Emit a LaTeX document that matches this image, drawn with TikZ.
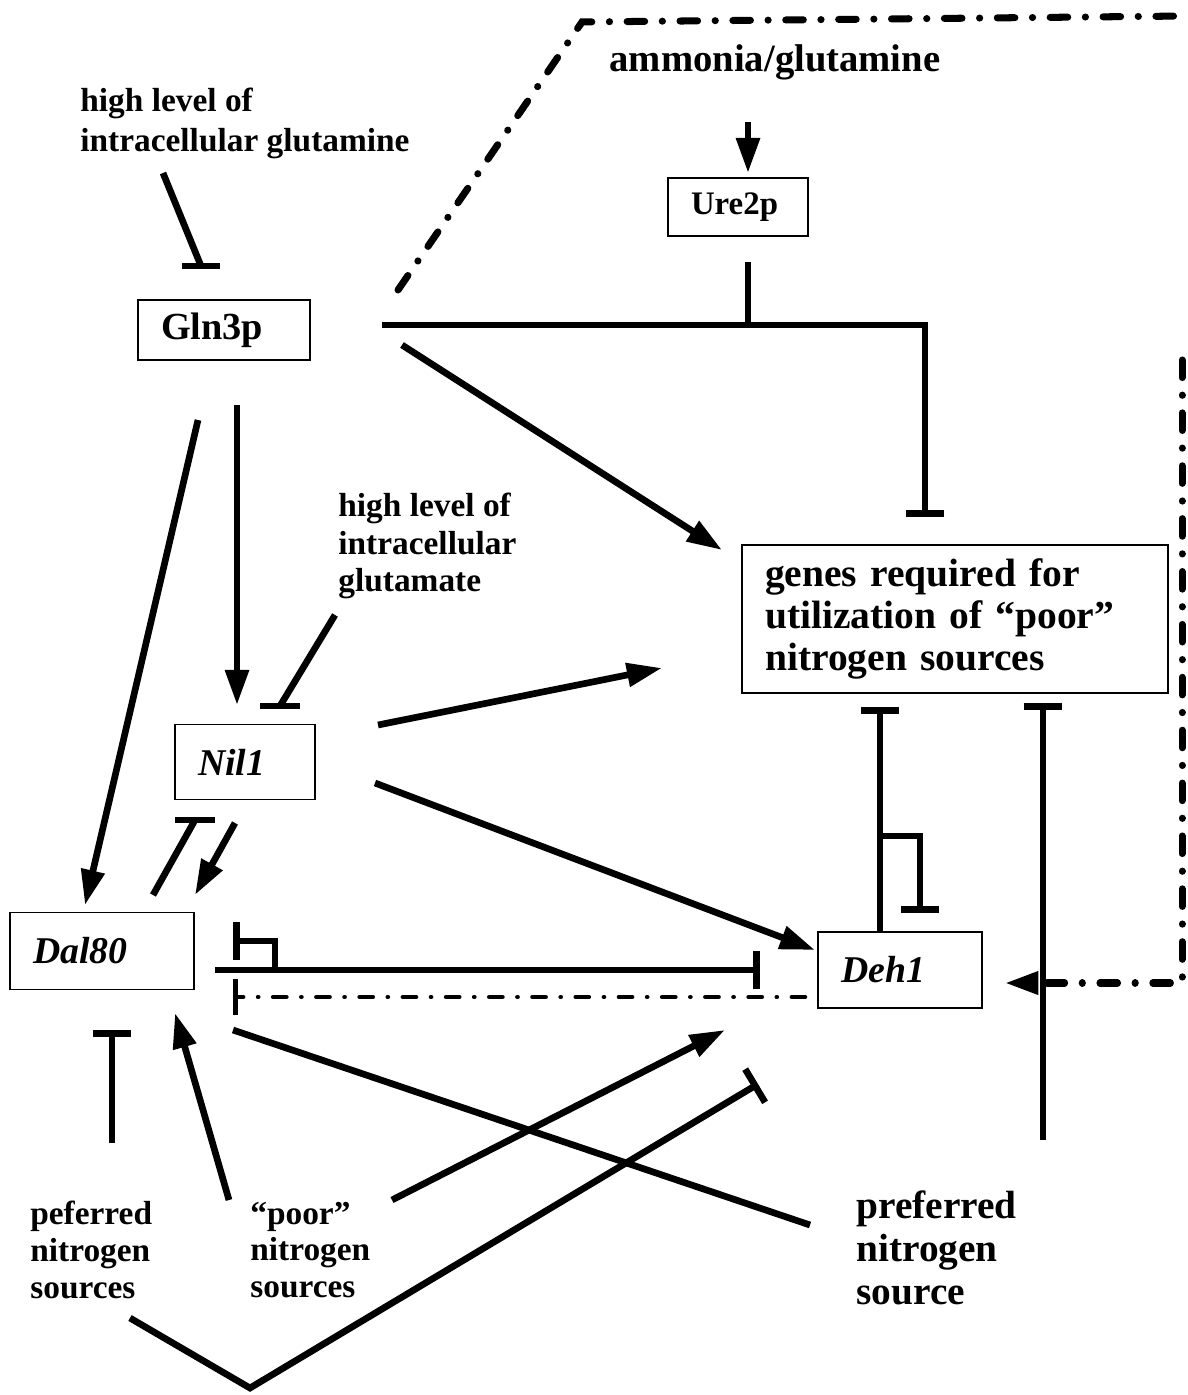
\documentclass[tikz,border=0pt]{standalone}
\usepackage{fontspec}
\setmainfont{Liberation Serif}
\usetikzlibrary{arrows.meta}
\tikzset{
  gene/.style={draw, line width=1.1pt, inner xsep=0.46cm, inner ysep=0pt, align=left},
  lab/.style={inner sep=0pt, anchor=west, align=left},
  act/.style={line width=3.8pt, -{Triangle[length=20pt,width=13pt]}},
  inh/.style={line width=3.8pt, -{Bar[width=22pt]}},
  plain/.style={line width=3.8pt},
  dashdot/.style={line width=4pt, line cap=round, dash pattern=on 10pt off 10pt on 0.1pt off 10pt},
  thindash/.style={line width=2.6pt, line cap=round, dash pattern=on 7.5pt off 8.5pt on 0.1pt off 8.5pt},
}
\newcommand{\labfont}{\bfseries\fontsize{19}{21}\selectfont}
\newcommand{\genefont}{\bfseries\itshape\fontsize{21.5}{24}\selectfont}
\begin{document}
\begin{tikzpicture}[x=0.02cm, y=-0.02cm]
  \useasboundingbox (0,0) rectangle (1187,1395);
  \node[gene, text width=2.52cm, minimum height=1.2cm, font=\bfseries\fontsize{21.8}{24}\selectfont] (gln3p) at (224,330) {Gln3p};
  \node[gene, text width=1.88cm, minimum height=1.16cm, font=\bfseries\fontsize{18.7}{21}\selectfont] (ure2p) at (738,207) {Ure2p};
  \node[gene, text width=7.6cm, minimum height=2.96cm, font=\bfseries\fontsize{22.5}{23.8}\selectfont] (genes) at (955,619) {genes required for\\utilization of “poor”\\nitrogen sources};
  \node[gene, text width=1.88cm, minimum height=1.5cm, font=\genefont] (nil1) at (245,762) {Nil1};
  \node[gene, text width=2.76cm, minimum height=1.54cm, font=\genefont] (dal80) at (102,951) {Dal80};
  \node[gene, text width=2.36cm, minimum height=1.52cm, font=\genefont] (deh1) at (900,970) {Deh1};
  \node[lab, anchor=center, font=\bfseries\fontsize{22}{24}\selectfont] (ammonia) at (775,62) {ammonia/glutamine};
  \node[lab, font=\bfseries\fontsize{19}{22.7}\selectfont] (glutamine) at (80,123) {high level of\\intracellular glutamine};
  \node[lab, font=\bfseries\fontsize{19}{21.3}\selectfont] (glutamate) at (338,546) {high level of\\intracellular\\glutamate};
  \node[lab, font=\labfont] (peferred) at (30,1250) {peferred\\nitrogen\\sources};
  \node[lab, font=\labfont] (poor) at (250,1250) {“poor”\\nitrogen\\sources};
  \node[lab, font=\bfseries\fontsize{22.4}{24.4}\selectfont] (preferred) at (856,1248) {preferred\\nitrogen\\source};

  \coordinate (gqS) at (163,173);  \coordinate (gqE) at (201,266);
  \coordinate (amS) at (748,122);  \coordinate (amE) at (748,173);
  \coordinate (urS) at (748,262);  \coordinate (urE) at (748,325);
  \coordinate (glnR) at (382,325); \coordinate (glnC) at (925,325); \coordinate (glnB) at (925,517);
  \coordinate (gl1) at (402,345);  \coordinate (gn1) at (722,550);
  \coordinate (gl2) at (237,405);  \coordinate (ni1) at (237,705);
  \coordinate (gl3) at (198,420);  \coordinate (da1) at (85,905);
  \coordinate (gtS) at (335,615);  \coordinate (gtE) at (280,706);
  \coordinate (ni2) at (378,725);  \coordinate (gn2) at (662,668);
  \coordinate (ni3) at (375,783);  \coordinate (de1) at (815,950);
  \coordinate (da2) at (153,895);  \coordinate (ni4) at (195,820);
  \coordinate (ni5) at (235,823);  \coordinate (da3) at (195,895);
  \coordinate (da4) at (215,970);  \coordinate (de2) at (760,970);
  \coordinate (hk1) at (275,970);  \coordinate (hk2) at (275,941); \coordinate (hk3) at (233,941);
  \coordinate (de3) at (805,997);  \coordinate (da5) at (233,997);
  \coordinate (pfS) at (112,1143); \coordinate (da6) at (112,1030);
  \coordinate (poS1) at (229,1200); \coordinate (da7) at (175,1013);
  \coordinate (poS2) at (392,1200); \coordinate (de4) at (725,1030);
  \coordinate (prS) at (810,1225); \coordinate (da8) at (233,1030);
  \coordinate (pfV1) at (130,1318); \coordinate (pfV2) at (250,1388); \coordinate (pfV3) at (758,1084);
  \coordinate (de5) at (880,932);  \coordinate (gn3) at (880,707);
  \coordinate (hk4) at (880,836);  \coordinate (hk5) at (920,836); \coordinate (hk6) at (920,913);
  \coordinate (prS2) at (1043,1140); \coordinate (gn4) at (1043,703);
  \coordinate (gl4) at (398,290);  \coordinate (tl) at (582,22); \coordinate (tr) at (1187,16);
  \coordinate (rt) at (1182,360);  \coordinate (rb) at (1182,983); \coordinate (de6) at (1005,983);

  \begin{scope}[plain]
    \draw (gqS) -- (gqE);
    \draw (gqE) +(-19,0) -- +(19,0);
    \draw[act] (amS) -- (amE);
    \draw (urS) -- (urE);
    \draw[inh] (glnR) -- (glnC) -- (glnB);
    \draw[act] (gl1) -- (gn1);
    \draw[act] (gl2) -- (ni1);
    \draw[act] (gl3) -- (da1);
    \draw (gtS) -- (gtE);
    \draw (gtE) +(-20,0) -- +(20,0);
    \draw[act] (ni2) -- (gn2);
    \draw[act] (ni3) -- (de1);
    \draw (da2) -- (ni4);
    \draw (ni4) +(-20,0) -- +(20,0);
    \draw[act] (ni5) -- (da3);
    \draw[inh] (da4) -- (de2);
    \draw[inh] (hk1) -- (hk2) -- (hk3);
    \draw[thindash, -{Bar[width=20pt]}] (de3) -- (da5);
    \draw[inh] (pfS) -- (da6);
    \draw[act] (poS1) -- (da7);
    \draw[act] (poS2) -- (de4);
    \draw (prS) -- (da8);
    \draw[inh] (pfV1) -- (pfV2) -- (pfV3);
    \draw[inh] (de5) -- (gn3);
    \draw[inh] (hk4) -- (hk5) -- (hk6);
    \draw[inh] (prS2) -- (gn4);
    \draw[dashdot] (gl4) -- (tl) -- (tr);
    \draw[dashdot, -{Triangle[length=19pt,width=12.5pt]}] (rt) -- (rb) -- (de6);
  \end{scope}
\end{tikzpicture}
\end{document}
